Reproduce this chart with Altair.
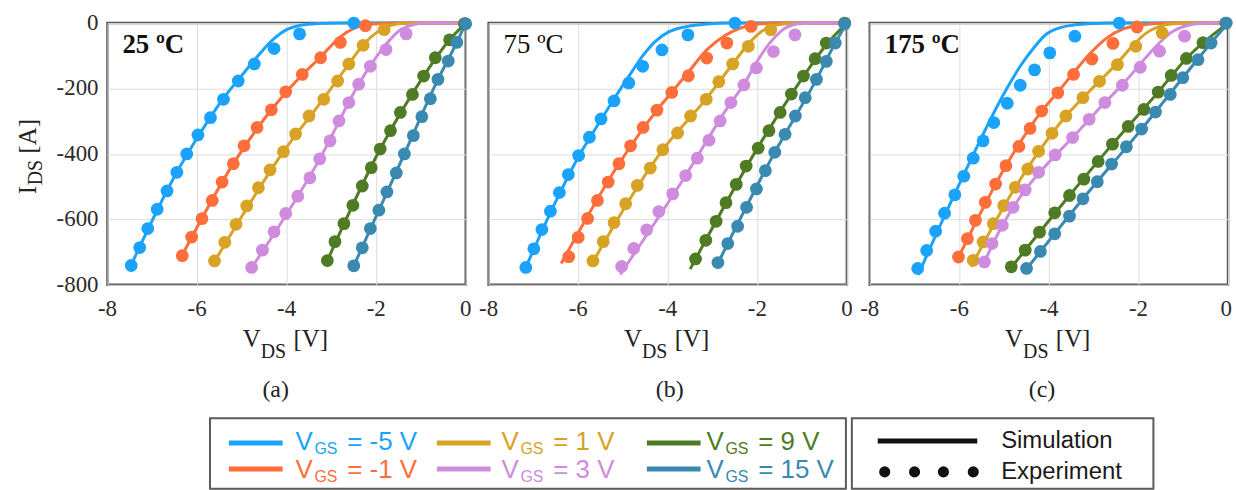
import altair as alt
import pandas as pd

# ------------------------------------------------------------------ labels
TEMPERATURES = ["25 ºC", "75 ºC", "175 ºC"]
TEMP_WEIGHT = ["bold", "normal", "bold"]
PANEL_TAGS = ["(a)", "(b)", "(c)"]
VGS_LABELS = ["-5 V", "-1 V", "1 V", "3 V", "9 V", "15 V"]
VGS_COLORS = ["#1ba3fb", "#ff6e3a", "#d8a224", "#cf8bdd", "#4e7b24", "#3989b1"]
X_TICKS = [-8, -6, -4, -2, 0]
X_TICK_LABELS = ["-8", "-6", "-4", "-2", "0"]
Y_TICKS = [0, -200, -400, -600, -800]
Y_TICK_LABELS = ["0", "-200", "-400", "-600", "-800"]

# ------------------------------------------------------------------ 25 ºC  (V_DS [V], I_DS [A])
EXP25_M5 = [(-7.47, -741), (-7.28, -686), (-7.10, -628), (-6.89, -569), (-6.67, -513), (-6.45, -456),
            (-6.23, -400), (-5.98, -342), (-5.70, -289), (-5.41, -233), (-5.08, -177), (-4.72, -125),
            (-4.28, -78), (-3.71, -33), (-2.50, 0)]
EXP25_M1 = [(-6.33, -711), (-6.12, -654), (-5.89, -598), (-5.66, -542), (-5.44, -486), (-5.19, -430),
            (-4.95, -375), (-4.66, -319), (-4.34, -265), (-4.02, -210), (-3.65, -157), (-3.24, -106),
            (-2.80, -59), (-2.24, -8)]
EXP25_P1 = [(-5.61, -727), (-5.38, -670), (-5.13, -615), (-4.89, -559), (-4.63, -503), (-4.37, -449),
            (-4.07, -393), (-3.80, -339), (-3.50, -284), (-3.17, -233), (-2.86, -177), (-2.61, -125),
            (-2.29, -68), (-1.82, -20)]
EXP25_P3 = [(-4.78, -747), (-4.54, -694), (-4.28, -638), (-4.02, -582), (-3.75, -529), (-3.48, -473),
            (-3.26, -415), (-3.03, -360), (-2.83, -299), (-2.61, -243), (-2.39, -187), (-2.13, -132),
            (-1.78, -81), (-1.33, -33)]
EXP25_P9 = [(-3.09, -726), (-2.92, -668), (-2.72, -613), (-2.52, -557), (-2.31, -498), (-2.11, -442),
            (-1.91, -385), (-1.68, -329), (-1.46, -273), (-1.19, -218), (-0.94, -162), (-0.68, -106),
            (-0.36, -51), (-0.03, -2)]
EXP25_P15 = [(-2.50, -742), (-2.31, -687), (-2.13, -628), (-1.94, -572), (-1.76, -516), (-1.55, -458),
             (-1.37, -400), (-1.17, -344), (-0.98, -286), (-0.79, -231), (-0.62, -172), (-0.39, -116),
             (-0.20, -59), (0.0, -2)]

SIM25_M5 = [(-7.5, -748), (-6.5, -468), (-5.9, -330), (-5.4, -228), (-5.0, -160), (-4.7, -110),
            (-4.3, -50), (-4.0, -20), (-3.7, -7), (-3.3, -1), (-2.8, 0), (0, 0)]
SIM25_M1 = [(-6.38, -722), (-5.2, -432), (-4.3, -258), (-3.7, -165), (-3.25, -105), (-2.8, -42),
            (-2.5, -16), (-2.2, -5), (-1.9, -1), (-1.5, 0), (0, 0)]
SIM25_P1 = [(-5.65, -738), (-4.07, -393), (-3.17, -230), (-2.61, -125), (-2.29, -66), (-2.0, -30),
            (-1.75, -10), (-1.5, -2), (-1.2, 0), (0, 0)]
SIM25_P3 = [(-4.85, -762), (-3.26, -415), (-2.39, -187), (-2.13, -130), (-1.78, -65), (-1.5, -25),
            (-1.2, -6), (-0.9, 0), (0, 0)]
SIM25_P9 = [(-3.12, -735), (-1.91, -385), (-0.94, -162), (-0.36, -51), (0, 0)]
SIM25_P15 = [(-2.52, -748), (-1.37, -400), (-0.62, -172), (-0.20, -59), (0, 0)]

# ------------------------------------------------------------------ 75 ºC
EXP75_M5 = [(-7.17, -747), (-6.99, -690), (-6.81, -631), (-6.62, -575), (-6.42, -518), (-6.22, -463),
            (-5.99, -405), (-5.75, -349), (-5.49, -293), (-5.20, -238), (-4.87, -183), (-4.56, -132),
            (-4.13, -82), (-3.55, -36), (-2.50, 0)]
EXP75_M1 = [(-6.21, -714), (-6.00, -655), (-5.79, -597), (-5.57, -542), (-5.33, -486), (-5.09, -430),
            (-4.83, -375), (-4.55, -319), (-4.24, -266), (-3.91, -212), (-3.54, -161), (-3.13, -107),
            (-2.68, -61), (-2.14, -10)]
EXP75_P1 = [(-5.67, -727), (-5.44, -668), (-5.20, -610), (-4.94, -552), (-4.68, -496), (-4.39, -443),
            (-4.11, -387), (-3.78, -336), (-3.49, -284), (-3.14, -233), (-2.86, -179), (-2.55, -125),
            (-2.20, -71), (-1.70, -20)]
EXP75_P3 = [(-5.03, -744), (-4.76, -689), (-4.47, -632), (-4.20, -576), (-3.89, -522), (-3.60, -466),
            (-3.34, -413), (-3.08, -358), (-2.83, -299), (-2.59, -243), (-2.30, -189), (-2.02, -137),
            (-1.64, -87), (-1.16, -36)]
EXP75_P9 = [(-3.38, -721), (-3.15, -664), (-2.92, -606), (-2.70, -549), (-2.47, -493), (-2.25, -437),
            (-1.98, -382), (-1.74, -329), (-1.49, -273), (-1.24, -217), (-0.97, -162), (-0.71, -109),
            (-0.46, -61), (-0.05, 0)]
EXP75_P15 = [(-2.88, -732), (-2.66, -674), (-2.44, -621), (-2.24, -563), (-2.02, -507), (-1.82, -451),
             (-1.61, -395), (-1.38, -340), (-1.15, -284), (-0.93, -228), (-0.68, -172), (-0.46, -117),
             (-0.26, -61), (-0.05, -3)]

SIM75_M5 = [(-7.22, -762), (-6.5, -545), (-6.0, -410), (-5.5, -298), (-5.2, -232), (-4.87, -163),
            (-4.56, -100), (-4.27, -55), (-3.98, -27), (-3.55, -10), (-3.1, -3), (-2.7, 0), (0, 0)]
SIM75_M1 = [(-6.38, -735), (-5.09, -430), (-4.24, -266), (-3.91, -211), (-3.55, -152), (-3.13, -82),
            (-2.72, -38), (-2.35, -14), (-1.98, -3), (-1.6, 0), (0, 0)]
SIM75_P1 = [(-5.72, -742), (-4.11, -387), (-3.14, -231), (-2.55, -125), (-2.2, -64), (-1.9, -25),
            (-1.6, -7), (-1.3, -1), (-1.0, 0), (0, 0)]
SIM75_P3 = [(-5.06, -768), (-3.60, -466), (-2.59, -243), (-2.30, -188), (-2.04, -125), (-1.8, -75),
            (-1.6, -42), (-1.4, -17), (-1.2, -5), (-1.0, -1), (-0.8, 0), (0, 0)]
SIM75_P9 = [(-3.5, -752), (-2.0, -383), (-0.98, -165), (-0.46, -66), (0, 0)]
SIM75_P15 = [(-2.9, -740), (-1.61, -395), (-0.68, -172), (-0.26, -61), (0, 0)]

# ------------------------------------------------------------------ 175 ºC
EXP175_M5 = [(-6.93, -750), (-6.73, -695), (-6.53, -636), (-6.33, -581), (-6.10, -525), (-5.90, -468),
             (-5.69, -413), (-5.47, -360), (-5.23, -304), (-4.93, -245), (-4.64, -190), (-4.32, -143),
             (-3.98, -91), (-3.42, -40), (-2.43, 0)]
EXP175_M1 = [(-6.02, -715), (-5.82, -659), (-5.64, -603), (-5.42, -548), (-5.19, -492), (-4.96, -436),
             (-4.67, -377), (-4.42, -322), (-4.16, -269), (-3.80, -213), (-3.45, -157), (-3.04, -110),
             (-2.57, -62), (-2.03, -12)]
EXP175_P1 = [(-5.69, -725), (-5.47, -669), (-5.24, -613), (-5.01, -558), (-4.75, -502), (-4.47, -446),
             (-4.23, -392), (-3.93, -337), (-3.62, -284), (-3.24, -228), (-2.87, -178), (-2.47, -127),
             (-2.06, -71), (-1.47, -30)]
EXP175_P3 = [(-5.44, -730), (-5.27, -674), (-5.04, -618), (-4.80, -563), (-4.53, -510), (-4.23, -456),
             (-3.86, -403), (-3.47, -350), (-3.10, -294), (-2.75, -243), (-2.36, -190), (-1.96, -135),
             (-1.53, -86), (-0.97, -40)]
EXP175_P9 = [(-4.84, -745), (-4.53, -694), (-4.21, -639), (-3.87, -580), (-3.54, -527), (-3.22, -477),
             (-2.90, -423), (-2.58, -370), (-2.23, -316), (-1.88, -264), (-1.56, -211), (-1.27, -160),
             (-0.93, -108), (-0.56, -60), (-0.05, 0)]
EXP175_P15 = [(-4.50, -750), (-4.19, -698), (-3.87, -644), (-3.54, -590), (-3.24, -537), (-2.92, -485),
              (-2.60, -431), (-2.27, -378), (-1.93, -324), (-1.62, -272), (-1.29, -218), (-1.01, -167),
              (-0.67, -112), (-0.38, -61), (-0.04, 0)]

SIM175_M5 = [(-6.92, -770), (-6.3, -580), (-5.7, -405), (-5.47, -340), (-5.23, -274), (-4.93, -198),
             (-4.64, -132), (-4.34, -76), (-4.04, -32), (-3.75, -14), (-3.45, -6), (-3.0, -1), (-2.6, 0), (0, 0)]
SIM175_M1 = [(-6.05, -725), (-4.96, -436), (-4.16, -269), (-3.78, -208), (-3.45, -152), (-3.08, -93),
             (-2.71, -46), (-2.34, -18), (-1.97, -6), (-1.6, -1), (-1.3, 0), (0, 0)]
SIM175_P1 = [(-5.74, -745), (-4.75, -502), (-3.62, -284), (-3.0, -195), (-2.47, -122), (-2.08, -62),
             (-1.82, -30), (-1.53, -10), (-1.2, -2), (-0.9, 0), (0, 0)]
SIM175_P3 = [(-5.48, -742), (-5.04, -618), (-4.53, -510), (-4.0, -425), (-3.47, -350), (-2.75, -243),
             (-2.36, -188), (-2.05, -140), (-1.82, -103), (-1.53, -60), (-1.23, -25), (-0.93, -8),
             (-0.65, -1), (-0.4, 0), (0, 0)]
SIM175_P9 = [(-4.87, -752), (-3.54, -527), (-2.58, -370), (-1.56, -211), (-0.93, -108), (0, 0)]
SIM175_P15 = [(-4.52, -755), (-3.24, -537), (-1.93, -324), (-1.01, -167), (-0.38, -61), (0, 0)]

EXP = [[EXP25_M5, EXP25_M1, EXP25_P1, EXP25_P3, EXP25_P9, EXP25_P15],
       [EXP75_M5, EXP75_M1, EXP75_P1, EXP75_P3, EXP75_P9, EXP75_P15],
       [EXP175_M5, EXP175_M1, EXP175_P1, EXP175_P3, EXP175_P9, EXP175_P15]]
SIM = [[SIM25_M5, SIM25_M1, SIM25_P1, SIM25_P3, SIM25_P9, SIM25_P15],
       [SIM75_M5, SIM75_M1, SIM75_P1, SIM75_P3, SIM75_P9, SIM75_P15],
       [SIM175_M5, SIM175_M1, SIM175_P1, SIM175_P3, SIM175_P9, SIM175_P15]]

# ------------------------------------------------------------------ layout / style
W, H = 360, 263
SPACING = 23
SERIF = "Liberation Serif"
SANS = "Liberation Sans"
ONE = pd.DataFrame({"k": [0]})
TICK_COLOR = "#2a2a2a"
TICK_SIZE = 23


def frame(series_list):
    rows = []
    for lab, pts in zip(VGS_LABELS, series_list):
        for n, (v, i) in enumerate(pts):
            rows.append({"vgs": lab, "V": v, "I": i, "n": n})
    return pd.DataFrame(rows)


def txt(text, x, y, size, font=SERIF, color="#222222", weight="normal", angle=0, align="left",
        baseline="alphabetic"):
    return alt.Chart(ONE).mark_text(
        text=text, font=font, fontSize=size, fontWeight=weight, color=color, angle=angle,
        align=align, baseline=baseline
    ).encode(x=alt.value(x), y=alt.value(y))


def hrule(x1, x2, y, color, width):
    return alt.Chart(ONE).mark_rule(color=color, strokeWidth=width).encode(
        x=alt.value(x1), x2=alt.value(x2), y=alt.value(y))


def box(x1, x2, y1, y2):
    return alt.Chart(ONE).mark_rect(fill="white", stroke="#5a5a5a", strokeWidth=2).encode(
        x=alt.value(x1), x2=alt.value(x2), y=alt.value(y1), y2=alt.value(y2))


def dot(x, y, color, size):
    return alt.Chart(ONE).mark_circle(color=color, size=size, opacity=1).encode(
        x=alt.value(x), y=alt.value(y))


TAG_X = [169, 182, 173]
XS = alt.Scale(domain=[-8, 0], nice=False, zero=False)
YS = alt.Scale(domain=[-800, 0], nice=False, zero=False)


def panel(k):
    color = alt.Color("vgs:N", scale=alt.Scale(domain=VGS_LABELS, range=VGS_COLORS), legend=None)
    grid = dict(title=None, labels=False, ticks=False, tickSize=0, domain=False,
                gridColor="#dcdcdc", gridWidth=1)
    xenc = alt.X("V:Q", scale=XS, axis=alt.Axis(values=X_TICKS, **grid))
    yenc = alt.Y("I:Q", scale=YS, axis=alt.Axis(values=Y_TICKS, **grid))
    sim = alt.Chart(frame(SIM[k])).mark_line(strokeWidth=3, interpolate="monotone").encode(
        x=xenc, y=yenc, color=color, order="n:Q")
    exp = alt.Chart(frame(EXP[k])).mark_circle(size=165, opacity=1).encode(x=xenc, y=yenc, color=color)

    # x tick labels (serif), placed through the x scale
    xt = pd.DataFrame({"V": X_TICKS, "lab": X_TICK_LABELS})
    if k == 2:
        xt_c = xt[xt["V"] != 0]
        xt_r = xt[xt["V"] == 0]
    else:
        xt_c, xt_r = xt, xt.iloc[0:0]
    xlab = alt.Chart(xt_c).mark_text(font=SERIF, fontSize=TICK_SIZE, color=TICK_COLOR, align="center",
                                     baseline="alphabetic").encode(
        x=alt.X("V:Q", scale=XS), y=alt.value(294), text="lab:N")
    layers = [sim, exp, xlab]
    if len(xt_r):
        layers.append(alt.Chart(xt_r).mark_text(font=SERIF, fontSize=TICK_SIZE, color=TICK_COLOR,
                                                align="right", baseline="alphabetic", dx=4).encode(
            x=alt.X("V:Q", scale=XS), y=alt.value(294), text="lab:N"))

    layers += [txt(TEMPERATURES[k], 15, 30, 27, weight=TEMP_WEIGHT[k], color="#111111"),
               txt("V", 136, 325, 25),
               txt("DS", 154, 337, 20),
               txt("[V]", 187, 325, 25),
               txt(PANEL_TAGS[k], TAG_X[k], 376, 24, align="center")]

    if k == 0:
        # y tick labels (serif), placed through the y scale
        yt = pd.DataFrame({"I": Y_TICKS, "lab": Y_TICK_LABELS})
        layers.append(alt.Chart(yt).mark_text(font=SERIF, fontSize=TICK_SIZE, color=TICK_COLOR,
                                              align="right", baseline="middle").encode(
            y=alt.Y("I:Q", scale=YS), x=alt.value(-9), text="lab:N"))
        # y axis title I_DS [A]
        layers += [txt("I", -72, 172, 25, angle=270),
                   txt("DS", -66, 163, 20, angle=270),
                   txt("[A]", -72, 131, 25, angle=270)]
        # layout anchor at the page's top-left corner
        layers += [alt.Chart(ONE).mark_rule(color="white", strokeWidth=0.01).encode(
            x=alt.value(-106), x2=alt.value(-105.5), y=alt.value(-20))]
        # legend box 1 (V_GS)
        layers += [box(103, 742, 397, 468)]
        line_x = [122, 331, 542]
        text_x = [189, 396, 602]
        row_line_y = [422, 448]
        row_text_y = [429, 457]
        for idx, (lab, col) in enumerate(zip(VGS_LABELS, VGS_COLORS)):
            c, r = idx // 2, idx % 2
            layers += [hrule(line_x[c], line_x[c] + 54, row_line_y[r], col, 5),
                       txt("V", text_x[c], row_text_y[r], 26, font=SANS, color=col),
                       txt("GS", text_x[c] + 19, row_text_y[r] + 4, 16, font=SANS, color=col),
                       txt("= " + lab, text_x[c] + 52, row_text_y[r], 26, font=SANS, color=col)]
        # legend box 2 (simulation / experiment)
        layers += [box(748, 1051, 397, 468),
                   hrule(774, 874, 420, "#111111", 5),
                   txt("Simulation", 898, 427, 24, font=SANS, color="#1a1a1a"),
                   txt("Experiment", 898, 458, 24, font=SANS, color="#1a1a1a")]
        for dx in [781, 811, 840, 870]:
            layers += [dot(dx, 451, "#111111", 125)]

    return alt.layer(*layers).properties(width=W, height=H)


chart = alt.HConcatChart(
    hconcat=[panel(0), panel(1), panel(2)], spacing=SPACING, bounds="flush"
).properties(
    padding=0, background="white"
).configure_view(
    stroke="#555555", strokeWidth=2.5
)

chart.save("out.html", embed_options={"renderer": "svg", "actions": False})
